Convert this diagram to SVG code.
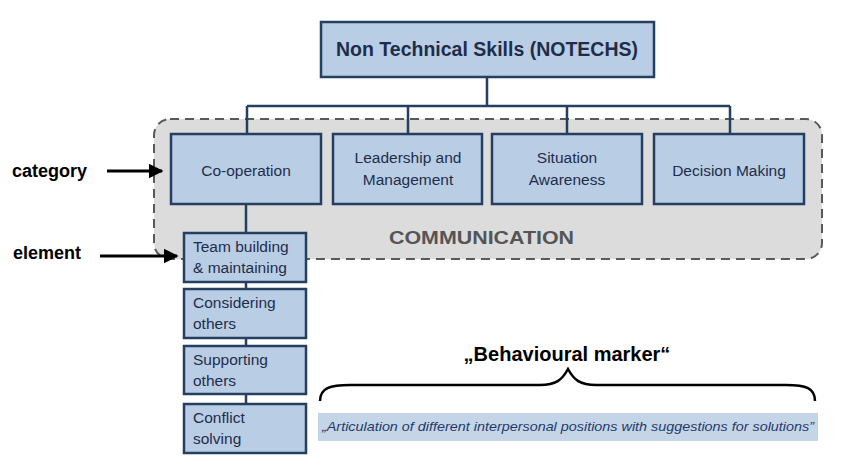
<svg xmlns="http://www.w3.org/2000/svg" width="849" height="471" viewBox="0 0 849 471">
<defs>
<style>
.box{fill:#b9cde5;stroke:#243f60;stroke-width:2.5}
.t{font-family:"Liberation Sans",Arial,sans-serif;fill:#1f2d4a}
.c{font-size:15.5px;text-anchor:middle}
.e{font-size:15.5px}
.lbl{font-family:"Liberation Sans",Arial,sans-serif;font-weight:bold;font-size:18px;fill:#000}
.conn{fill:none;stroke:#243f60;stroke-width:2.5}
</style>
<marker id="ah" viewBox="0 0 10 10" refX="9" refY="5" markerWidth="5" markerHeight="5" orient="auto" markerUnits="strokeWidth">
<path d="M0,0 L10,5 L0,10 z" fill="#000"/>
</marker>
</defs>
<rect x="0" y="0" width="849" height="471" fill="#fff"/>
<g id="communication">
<rect x="154" y="119" width="668" height="140" rx="16" fill="#dcdcdc" stroke="#595959" stroke-width="2" stroke-dasharray="9,6"/>
<text x="389" y="244" font-family="'Liberation Sans',Arial,sans-serif" font-weight="bold" font-size="19px" fill="#555" textLength="185" lengthAdjust="spacingAndGlyphs">COMMUNICATION</text>
</g>
<g id="connectors">
<path class="conn" d="M487,77 V106 M247,106 H730 M247,106 V134 M408,106 V134 M567,106 V134 M730,106 V134"/>
<path class="conn" d="M246,204 V233 M246,282 V289 M246,338 V346 M246,394 V404"/>
<line x1="107" y1="171" x2="162" y2="171" stroke="#000" stroke-width="3" marker-end="url(#ah)"/>
<line x1="100" y1="256" x2="177" y2="256" stroke="#000" stroke-width="3" marker-end="url(#ah)"/>
</g>
<g id="notechs">
<rect class="box" x="321" y="22" width="333" height="55"/>
<text class="t" x="487" y="56" font-weight="bold" font-size="19.5px" text-anchor="middle">Non Technical Skills (NOTECHS)</text>
</g>
<g id="cooperation">
<rect class="box" x="171" y="134" width="150" height="70"/>
<text class="t c" x="246" y="176">Co-operation</text>
</g>
<g id="leadership">
<rect class="box" x="333" y="134" width="149" height="70"/>
<text class="t c" x="408" y="163">Leadership and</text>
<text class="t c" x="408" y="185">Management</text>
</g>
<g id="situation">
<rect class="box" x="492" y="134" width="150" height="70"/>
<text class="t c" x="567" y="163">Situation</text>
<text class="t c" x="567" y="185">Awareness</text>
</g>
<g id="decision">
<rect class="box" x="654" y="134" width="150" height="70"/>
<text class="t c" x="729" y="176">Decision Making</text>
</g>
<g id="team">
<rect class="box" x="184" y="233" width="122" height="49"/>
<text class="t e" x="193" y="252">Team building</text>
<text class="t e" x="193" y="273">&amp; maintaining</text>
</g>
<g id="considering">
<rect class="box" x="184" y="289" width="122" height="49"/>
<text class="t e" x="193" y="308">Considering</text>
<text class="t e" x="193" y="329">others</text>
</g>
<g id="supporting">
<rect class="box" x="184" y="346" width="122" height="48"/>
<text class="t e" x="193" y="365">Supporting</text>
<text class="t e" x="193" y="386">others</text>
</g>
<g id="conflict">
<rect class="box" x="184" y="404" width="122" height="49"/>
<text class="t e" x="193" y="423">Conflict</text>
<text class="t e" x="193" y="444">solving</text>
</g>
<g id="category">
<text class="lbl" x="12" y="177">category</text>
</g>
<g id="element">
<text class="lbl" x="13" y="259">element</text>
</g>
<g id="marker">
<text x="567" y="361" font-family="'Liberation Sans',Arial,sans-serif" font-weight="bold" font-size="20px" fill="#000" text-anchor="middle">„Behavioural  marker“</text>
<path d="M320,401 C320,388 330,385 350,385 L540,385 C556,385 562,380 568,369 C574,380 580,385 596,385 L786,385 C806,385 815,388 815,401" fill="none" stroke="#000" stroke-width="2.5"/>
<rect x="318" y="413" width="500" height="28" fill="#c5d5e8"/>
<text x="322" y="431" font-family="'Liberation Sans',Arial,sans-serif" font-style="italic" font-size="13px" fill="#1f3a6a" textLength="492" lengthAdjust="spacingAndGlyphs">„Articulation of different interpersonal positions with suggestions for solutions”</text>
</g>
</svg>
